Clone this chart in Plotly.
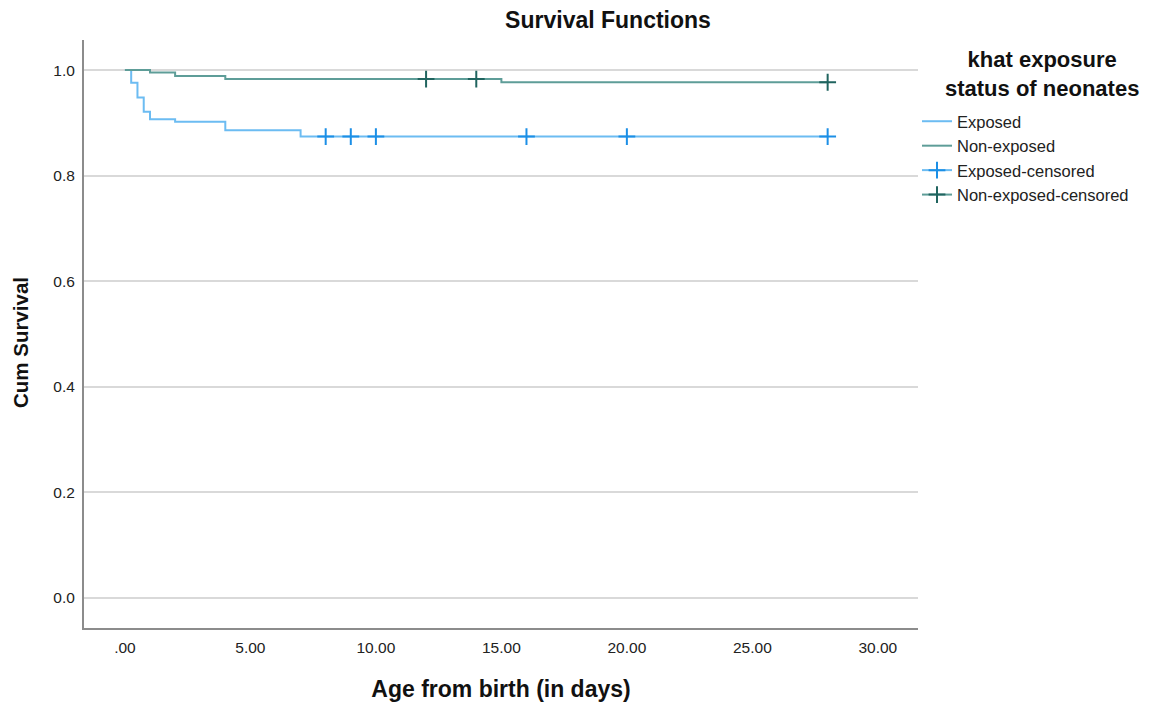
import plotly.graph_objects as go

# Kaplan-Meier step data
exp_t = [0, 0.25, 0.5, 0.75, 1, 2, 4, 7, 28]
exp_s = [1.0, 0.976, 0.948, 0.921, 0.907, 0.902, 0.886, 0.874, 0.874]
exp_cens_t = [8, 9, 10, 16, 20, 28]
exp_cens_s = [0.874, 0.874, 0.874, 0.874, 0.874, 0.874]

non_t = [0, 1, 2, 4, 15, 28]
non_s = [1.0, 0.9955, 0.989, 0.983, 0.977, 0.977]
non_cens_t = [12, 14, 28]
non_cens_s = [0.983, 0.983, 0.977]

x_ticks = [0, 5, 10, 15, 20, 25, 30]
x_labels = [".00", "5.00", "10.00", "15.00", "20.00", "25.00", "30.00"]
y_ticks = [0, 0.2, 0.4, 0.6, 0.8, 1.0]
y_labels = ["0.0", "0.2", "0.4", "0.6", "0.8", "1.0"]

C_EXP = "#6cbcf2"
C_EXP_C = "#1c8fe6"
C_NON = "#5e9d98"
C_NON_C = "#20645f"

W, H = 1161, 704
L, R, T, B = 84, 243, 40, 76
PW, PH = W - L - R, H - T - B


def gapped(xs, ys):
    gx, gy = [], []
    for a, b in zip(xs, ys):
        gx += [a, None]
        gy += [b, None]
    return gx, gy


def px_x(p):
    return (p - L) / PW


def px_y(p):
    return 1 - (p - T) / PH


fig = go.Figure()
fig.add_trace(go.Scatter(x=exp_t, y=exp_s, mode="lines", name="Exposed",
                         line=dict(color=C_EXP, width=2, shape="hv")))
fig.add_trace(go.Scatter(x=non_t, y=non_s, mode="lines", name="Non-exposed",
                         line=dict(color=C_NON, width=2, shape="hv")))
gx, gy = gapped(exp_cens_t, exp_cens_s)
fig.add_trace(go.Scatter(x=gx, y=gy, mode="lines+markers", name="Exposed-censored",
                         connectgaps=False,
                         line=dict(color=C_EXP, width=2),
                         marker=dict(symbol="cross-thin", size=12,
                                     line=dict(color=C_EXP_C, width=2))))
gx, gy = gapped(non_cens_t, non_cens_s)
fig.add_trace(go.Scatter(x=gx, y=gy, mode="lines+markers", name="Non-exposed-censored",
                         connectgaps=False,
                         line=dict(color=C_NON, width=2),
                         marker=dict(symbol="cross-thin", size=12,
                                     line=dict(color=C_NON_C, width=2))))

fig.add_annotation(text="<b>khat exposure<br>status of neonates</b>",
                   xref="paper", yref="paper", align="center",
                   x=px_x(1042), y=px_y(74), xanchor="center", yanchor="middle",
                   showarrow=False, borderpad=0,
                   font=dict(size=22, color="#111"))

fig.add_annotation(text="<b>Cum Survival</b>", xref="paper", yref="paper",
                   x=px_x(20), y=px_y(343), xanchor="center", yanchor="middle",
                   textangle=-90, showarrow=False,
                   font=dict(size=20.5, color="#111"))

fig.update_layout(
    width=W, height=H,
    margin=dict(l=L, r=R, t=T, b=B),
    paper_bgcolor="white", plot_bgcolor="white",
    font=dict(family="Liberation Sans, Arial, sans-serif", color="#222"),
    title=dict(text="<b>Survival Functions</b>", x=608 / W, xanchor="center",
               y=1 - 20 / H, yanchor="middle",
               font=dict(size=23, color="#111")),
    showlegend=True,
    legend=dict(x=px_x(917), xanchor="left", y=px_y(104), yanchor="top",
                font=dict(size=16.5, color="#222"),
                tracegroupgap=0, borderwidth=0,
                bgcolor="rgba(0,0,0,0)"),
    xaxis=dict(range=[-1.63, 31.6], tickvals=x_ticks, ticktext=x_labels,
               showgrid=False, zeroline=False, automargin=False,
               showline=True, linecolor="#8c8c8c", linewidth=2,
               ticks="", ticklabelstandoff=4,
               tickfont=dict(size=15.5, color="#222"),
               title=dict(text="<b>Age from birth (in days)</b>", standoff=26,
                          font=dict(size=23, color="#111"))),
    yaxis=dict(range=[-0.057, 1.057], tickvals=y_ticks, ticktext=y_labels,
               showgrid=True, gridcolor="#d9d9d9", gridwidth=2,
               zeroline=False, automargin=False,
               showline=True, linecolor="#8c8c8c", linewidth=2,
               ticks="", ticklabelstandoff=4,
               tickfont=dict(size=15.5, color="#222")),
)

fig.write_html("out.html", config={"displayModeBar": False},
               post_script="document.body.style.margin='0';document.body.style.overflow='hidden';")
